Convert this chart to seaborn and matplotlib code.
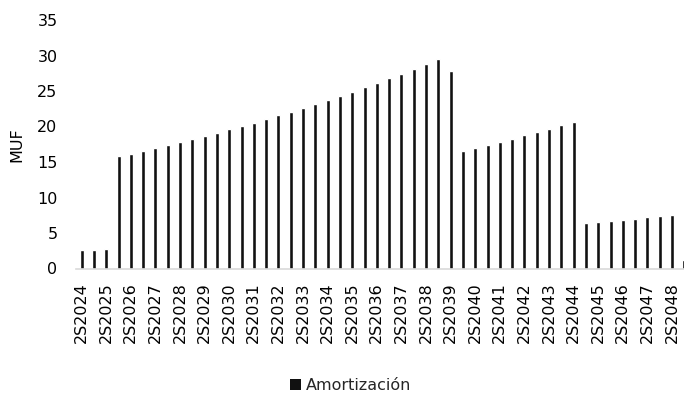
import matplotlib
matplotlib.use("Agg")
import matplotlib.pyplot as plt
import seaborn as sns
import pandas as pd
from matplotlib.patches import Patch

# Semi-annual periods from 2S2024 to 1S2049
periods = []
for y in range(2024, 2050):
    for s in (1, 2):
        if (y == 2024 and s == 1) or (y == 2049 and s == 2):
            continue
        periods.append(f"{s}S{y}")

amortizacion = [
    2.6, 2.6, 2.7, 15.85, 16.1, 16.5, 16.95, 17.35, 17.75, 18.2,
    18.65, 19.1, 19.6, 20.05, 20.5, 21.05, 21.55, 22.05, 22.55, 23.1,
    23.7, 24.3, 24.9, 25.5, 26.1, 26.8, 27.4, 28.05, 28.75, 29.45,
    27.8, 16.55, 16.95, 17.4, 17.85, 18.3, 18.75, 19.2, 19.7, 20.25,
    20.7, 6.35, 6.5, 6.7, 6.85, 7.0, 7.2, 7.4, 7.55, 1.2,
]

tick_labels = [p for p in periods if p.startswith("2S")]
series_name = "Amortización"

df = pd.DataFrame({"periodo": periods, "valor": amortizacion})

sns.set_theme(style="white")
plt.rcParams["font.family"] = ["DejaVu Sans"]

fs = 11.5
fig = plt.figure(figsize=(6.84, 3.94), dpi=100)
ax = fig.add_axes([75.5 / 684, (394 - 268.5) / 394, 615 / 684, (268.5 - 20) / 394])

sns.barplot(data=df, x="periodo", y="valor", color="#111111", width=0.33,
            saturation=1, ax=ax)

ax.set_ylim(0, 35)
ax.set_yticks(range(0, 36, 5))
ax.set_xlim(-0.5, len(periods) - 0.5)
tick_pos = [i for i, p in enumerate(periods) if p in tick_labels]
ax.set_xticks(tick_pos)
ax.set_xticklabels(tick_labels, rotation=90, fontsize=fs, color="#000000")
ax.tick_params(axis="y", labelsize=fs, colors="#000000", length=0, pad=13)
ax.tick_params(axis="x", length=0, pad=10)
ax.set_xlabel("")
ax.set_ylabel("MUF", fontsize=fs, color="#000000")
ax.yaxis.set_label_coords(-51 / 615, 0.5)

for s in ("top", "right", "left"):
    ax.spines[s].set_visible(False)
ax.spines["bottom"].set_color("#d9d9d9")
ax.spines["bottom"].set_linewidth(1.2)

handle = Patch(facecolor="#111111", edgecolor="none")
fig.legend([handle], [series_name], loc="center", bbox_to_anchor=(0.513, 0.022),
           frameon=False, fontsize=fs, handlelength=0.7, handleheight=0.7,
           handletextpad=0.3)

fig.savefig("out.png", dpi=100)
